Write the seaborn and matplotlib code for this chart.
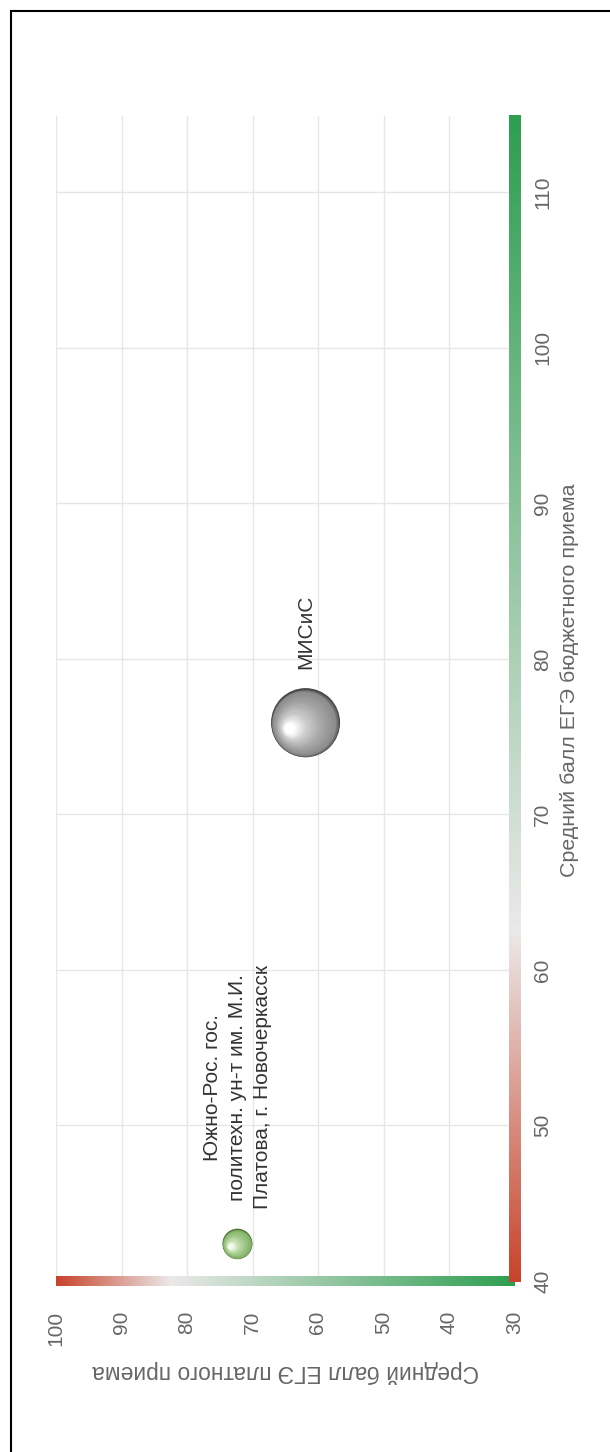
import numpy as np
import pandas as pd
import matplotlib
matplotlib.use("Agg")
import matplotlib.pyplot as plt
import seaborn as sns
from matplotlib.colors import LinearSegmentedColormap
from matplotlib.transforms import ScaledTranslation
from matplotlib.patches import Rectangle

# ---------------- data ----------------
names = ["Южно-Рос. гос.\nполитехн. ун-т им. М.И.\nПлатова, г. Новочеркасск", "МИСиС"]
budget_score = [42.4, 75.9]     # Средний балл ЕГЭ бюджетного приема
paid_score = [72.3, 61.9]       # Средний балл ЕГЭ платного приема
bubble_value = [1.0, 5.3]       # relative bubble magnitude

budget_ticks = [40, 50, 60, 70, 80, 90, 100, 110]
paid_ticks = [30, 40, 50, 60, 70, 80, 90, 100]
budget_label = "Средний балл ЕГЭ бюджетного приема"
paid_label = "Средний балл ЕГЭ платного приема"

df = pd.DataFrame({"name": names, "budget": budget_score,
                   "paid": paid_score, "value": bubble_value})

# ---------------- style ----------------
sns.set_theme(style="white")
plt.rcParams['font.family'] = ['Liberation Sans', 'DejaVu Sans']

W, H = 610, 1452
fig = plt.figure(figsize=(W / 100, H / 100), dpi=100)
fig.patch.set_facecolor("white")

ax_l, ax_r, ax_t, ax_b = 56, 514.5, 116, 1281
ax = fig.add_axes([ax_l / W, (H - ax_b) / H, (ax_r - ax_l) / W, (ax_b - ax_t) / H])
ax.set_facecolor("white")

# rotated chart: horizontal = paid score (inverted), vertical = budget score
ax.set_xlim(100, 30)
ax.set_ylim(40, 114.9)
ax.set_xticks(paid_ticks)
ax.set_yticks(budget_ticks)
ax.grid(True, color="#e6e6e6", linewidth=1)
ax.set_axisbelow(True)
for sp in ax.spines.values():
    sp.set_visible(False)

ax.yaxis.tick_right()
ax.tick_params(axis="y", length=0, pad=13.5, labelsize=15, labelcolor="#666666",
               labelrotation=90)
ax.tick_params(axis="x", length=0, pad=21.5, labelsize=15, labelcolor="#666666",
               labelrotation=90)
for lbl in ax.get_yticklabels():
    lbl.set_va("center")

# ---------------- bubbles ----------------
rim_colors = {names[0]: "#4c7838", names[1]: "#474747"}
shade_maps = [
    LinearSegmentedColormap.from_list("g", [(0, "#4c7838"), (0.08, "#82b068"),
                                            (0.4, "#9fc787"), (0.75, "#c6e1b2"),
                                            (1, "#f4fbee")]),
    LinearSegmentedColormap.from_list("k", [(0, "#474747"), (0.08, "#8a8a8a"),
                                            (0.4, "#a6a6a6"), (0.75, "#cfcfcf"),
                                            (1, "#ffffff")]),
]

sns.scatterplot(data=df, x="paid", y="budget", size="value", sizes=(467, 2470),
                hue="name", palette=rim_colors, linewidth=0, legend=False,
                ax=ax, zorder=3)
base = ax.collections[-1]
sizes_pt2 = base.get_sizes()

N = 40
for i, row in df.iterrows():
    s = sizes_pt2[i]
    r_pt = np.sqrt(s) / 2
    hx, hy = -0.55 * r_pt, -0.2 * r_pt
    cm = shade_maps[i]
    for k in range(1, N + 1):
        t = k / N
        f = 1 - 0.85 * t
        dx, dy = (1 - f) * hx, (1 - f) * hy
        sns.scatterplot(x=[row.paid], y=[row.budget], s=s * f * f, color=cm(t),
                        linewidth=0, ax=ax, zorder=3, legend=False)
        coll = ax.collections[-1]
        coll.set_offset_transform(ax.transData +
                                  ScaledTranslation(dx / 72, dy / 72, fig.dpi_scale_trans))
    ax.annotate(row["name"], xy=(row.paid, row.budget), xytext=(0, r_pt + 14),
                textcoords="offset points", rotation=90, rotation_mode="anchor",
                ha="left", va="center", multialignment="center", fontsize=15,
                color="#333333", linespacing=1.38, zorder=4)

# ---------------- axis labels ----------------
ax.set_xlabel(paid_label, fontsize=16.4, color="#666666", rotation=180)
ax.xaxis.set_label_coords(0.5, -0.078)
ax.xaxis.label.set_va("center")
ax.xaxis.label.set_ha("center")

ax.yaxis.set_label_position("right")
ax.set_ylabel(budget_label, fontsize=15.4, color="#666666", rotation=90)
ax.yaxis.set_label_coords(1.12, 0.516)
ax.yaxis.label.set_rotation_mode("anchor")
ax.yaxis.label.set_va("center")
ax.yaxis.label.set_ha("center")

# ---------------- gradient axis bars ----------------
cmap_h = LinearSegmentedColormap.from_list("h", [(0, "#c8432b"), (0.25, "#ebe9e9"),
                                                 (1, "#2e9e50")])
cmap_v = LinearSegmentedColormap.from_list("v", [(0, "#c8432b"), (0.30, "#ebe9e9"),
                                                 (1, "#2e9e50")])
aw, ah = ax_r - ax_l, ax_b - ax_t
hbar = ax.inset_axes([0, (ax_b - 1286) / ah, (515 - ax_l) / aw, 10 / ah])
hbar.imshow(np.linspace(0, 1, 256)[None, :], cmap=cmap_h, aspect="auto",
            extent=[0, 1, 0, 1])
hbar.axis("off")
vbar = ax.inset_axes([(509 - ax_l) / aw, (ax_b - 1282) / ah, 11 / aw, (1282 - 115) / ah])
vbar.imshow(np.linspace(0, 1, 256)[:, None], cmap=cmap_v, aspect="auto",
            origin="lower", extent=[0, 1, 0, 1])
vbar.axis("off")

# ---------------- frame ----------------
fig.add_artist(Rectangle((11 / W, -0.1), 1.2, (H - 11) / H + 0.1,
                         transform=fig.transFigure, fill=False,
                         edgecolor="black", linewidth=1.5))

fig.savefig("out.png", dpi=100, facecolor="white")
